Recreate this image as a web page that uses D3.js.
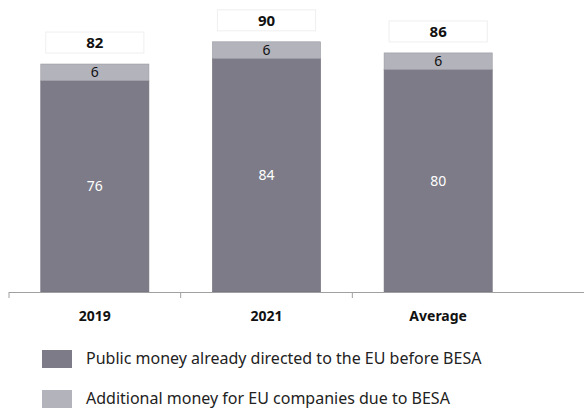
<!DOCTYPE html>
<meta charset="utf-8">
<script src="https://d3js.org/d3.v7.min.js"></script>
<style>
  body { margin: 0; background: #fff; }
  text { font-family: "Noto Sans", sans-serif; }
</style>
<body>
<svg id="chart" width="584" height="410"></svg>
<script>
// data
var categories = ["2019", "2021", "Average"];
var publicMoney = [76, 84, 80];
var additional = [6, 6, 6];
var totals = [82, 90, 86];
var seriesNames = ["Public money already directed to the EU before BESA",
                   "Additional money for EU companies due to BESA"];
var colors = ["#7c7b87", "#b3b3bb"];

var svg = d3.select("#chart");

var x = d3.scaleBand()
  .domain(categories)
  .range([9, 524])
  .paddingInner(0.37)
  .paddingOuter(0.185);

var y = d3.scaleLinear()
  .domain([0, 100])
  .range([292, 14]);

var rows = categories.map(function (c, i) {
  return { cat: c, base: publicMoney[i], extra: additional[i], total: totals[i] };
});

// dark segment
svg.append("g").selectAll("rect")
  .data(rows).enter().append("rect")
  .attr("x", d => x(d.cat))
  .attr("y", d => y(d.base))
  .attr("width", x.bandwidth())
  .attr("height", d => y(0) - y(d.base))
  .attr("fill", colors[0])
  .attr("stroke", "#6e6d78")
  .attr("stroke-width", 0.6);

// light segment
svg.append("g").selectAll("rect")
  .data(rows).enter().append("rect")
  .attr("x", d => x(d.cat))
  .attr("y", d => y(d.base + d.extra))
  .attr("width", x.bandwidth())
  .attr("height", d => y(d.base) - y(d.base + d.extra))
  .attr("fill", colors[1])
  .attr("stroke", "#9a9aa2")
  .attr("stroke-width", 0.6);

// value labels inside bars
svg.append("g").selectAll("text")
  .data(rows).enter().append("text")
  .attr("x", d => x(d.cat) + x.bandwidth() / 2)
  .attr("y", d => (y(0) + y(d.base)) / 2 + 5)
  .attr("text-anchor", "middle")
  .attr("fill", "#fff")
  .style("font-size", "14px")
  .text(d => d.base);

svg.append("g").selectAll("text")
  .data(rows).enter().append("text")
  .attr("x", d => x(d.cat) + x.bandwidth() / 2)
  .attr("y", d => (y(d.base) + y(d.base + d.extra)) / 2 + 5)
  .attr("text-anchor", "middle")
  .attr("fill", "#111")
  .style("font-size", "14px")
  .text(d => d.extra);

// total boxes
var tot = svg.append("g").selectAll("g")
  .data(rows).enter().append("g");
tot.append("rect")
  .attr("x", d => x(d.cat) + 5)
  .attr("y", d => y(d.total) - 32)
  .attr("width", x.bandwidth() - 10)
  .attr("height", 21)
  .attr("fill", "#fff")
  .attr("stroke", "#efefef")
  .attr("stroke-width", 1);
tot.append("text")
  .attr("x", d => x(d.cat) + x.bandwidth() / 2)
  .attr("y", d => y(d.total) - 16)
  .attr("text-anchor", "middle")
  .attr("fill", "#111")
  .style("font-size", "15px")
  .style("font-weight", "bold")
  .text(d => d.total);

// axis
var axis = svg.append("g");
axis.append("line")
  .attr("x1", 9).attr("x2", 584)
  .attr("y1", y(0) + 0.5).attr("y2", y(0) + 0.5)
  .attr("stroke", "#a0a0a0").attr("stroke-width", 1.2);
axis.selectAll("line.tick")
  .data(categories).enter().append("line")
  .attr("class", "tick")
  .attr("x1", d => x(d) - x.step() * x.paddingInner() / 2)
  .attr("x2", d => x(d) - x.step() * x.paddingInner() / 2)
  .attr("y1", y(0)).attr("y2", y(0) + 6)
  .attr("stroke", "#a0a0a0");
axis.selectAll("text")
  .data(categories).enter().append("text")
  .attr("x", d => x(d) + x.bandwidth() / 2)
  .attr("y", y(0) + 29)
  .attr("text-anchor", "middle")
  .attr("fill", "#111")
  .style("font-size", "14px")
  .style("font-weight", "bold")
  .text(d => d);

// legend
var leg = svg.append("g").selectAll("g")
  .data(seriesNames).enter().append("g")
  .attr("transform", (d, i) => "translate(42," + (350 + i * 40) + ")");
leg.append("rect")
  .attr("width", 30).attr("height", 18)
  .attr("fill", (d, i) => colors[i]);
leg.append("text")
  .attr("x", 44).attr("y", 14)
  .attr("fill", "#222")
  .style("font-size", "16px")
  .text(d => d);
</script>
</body>
